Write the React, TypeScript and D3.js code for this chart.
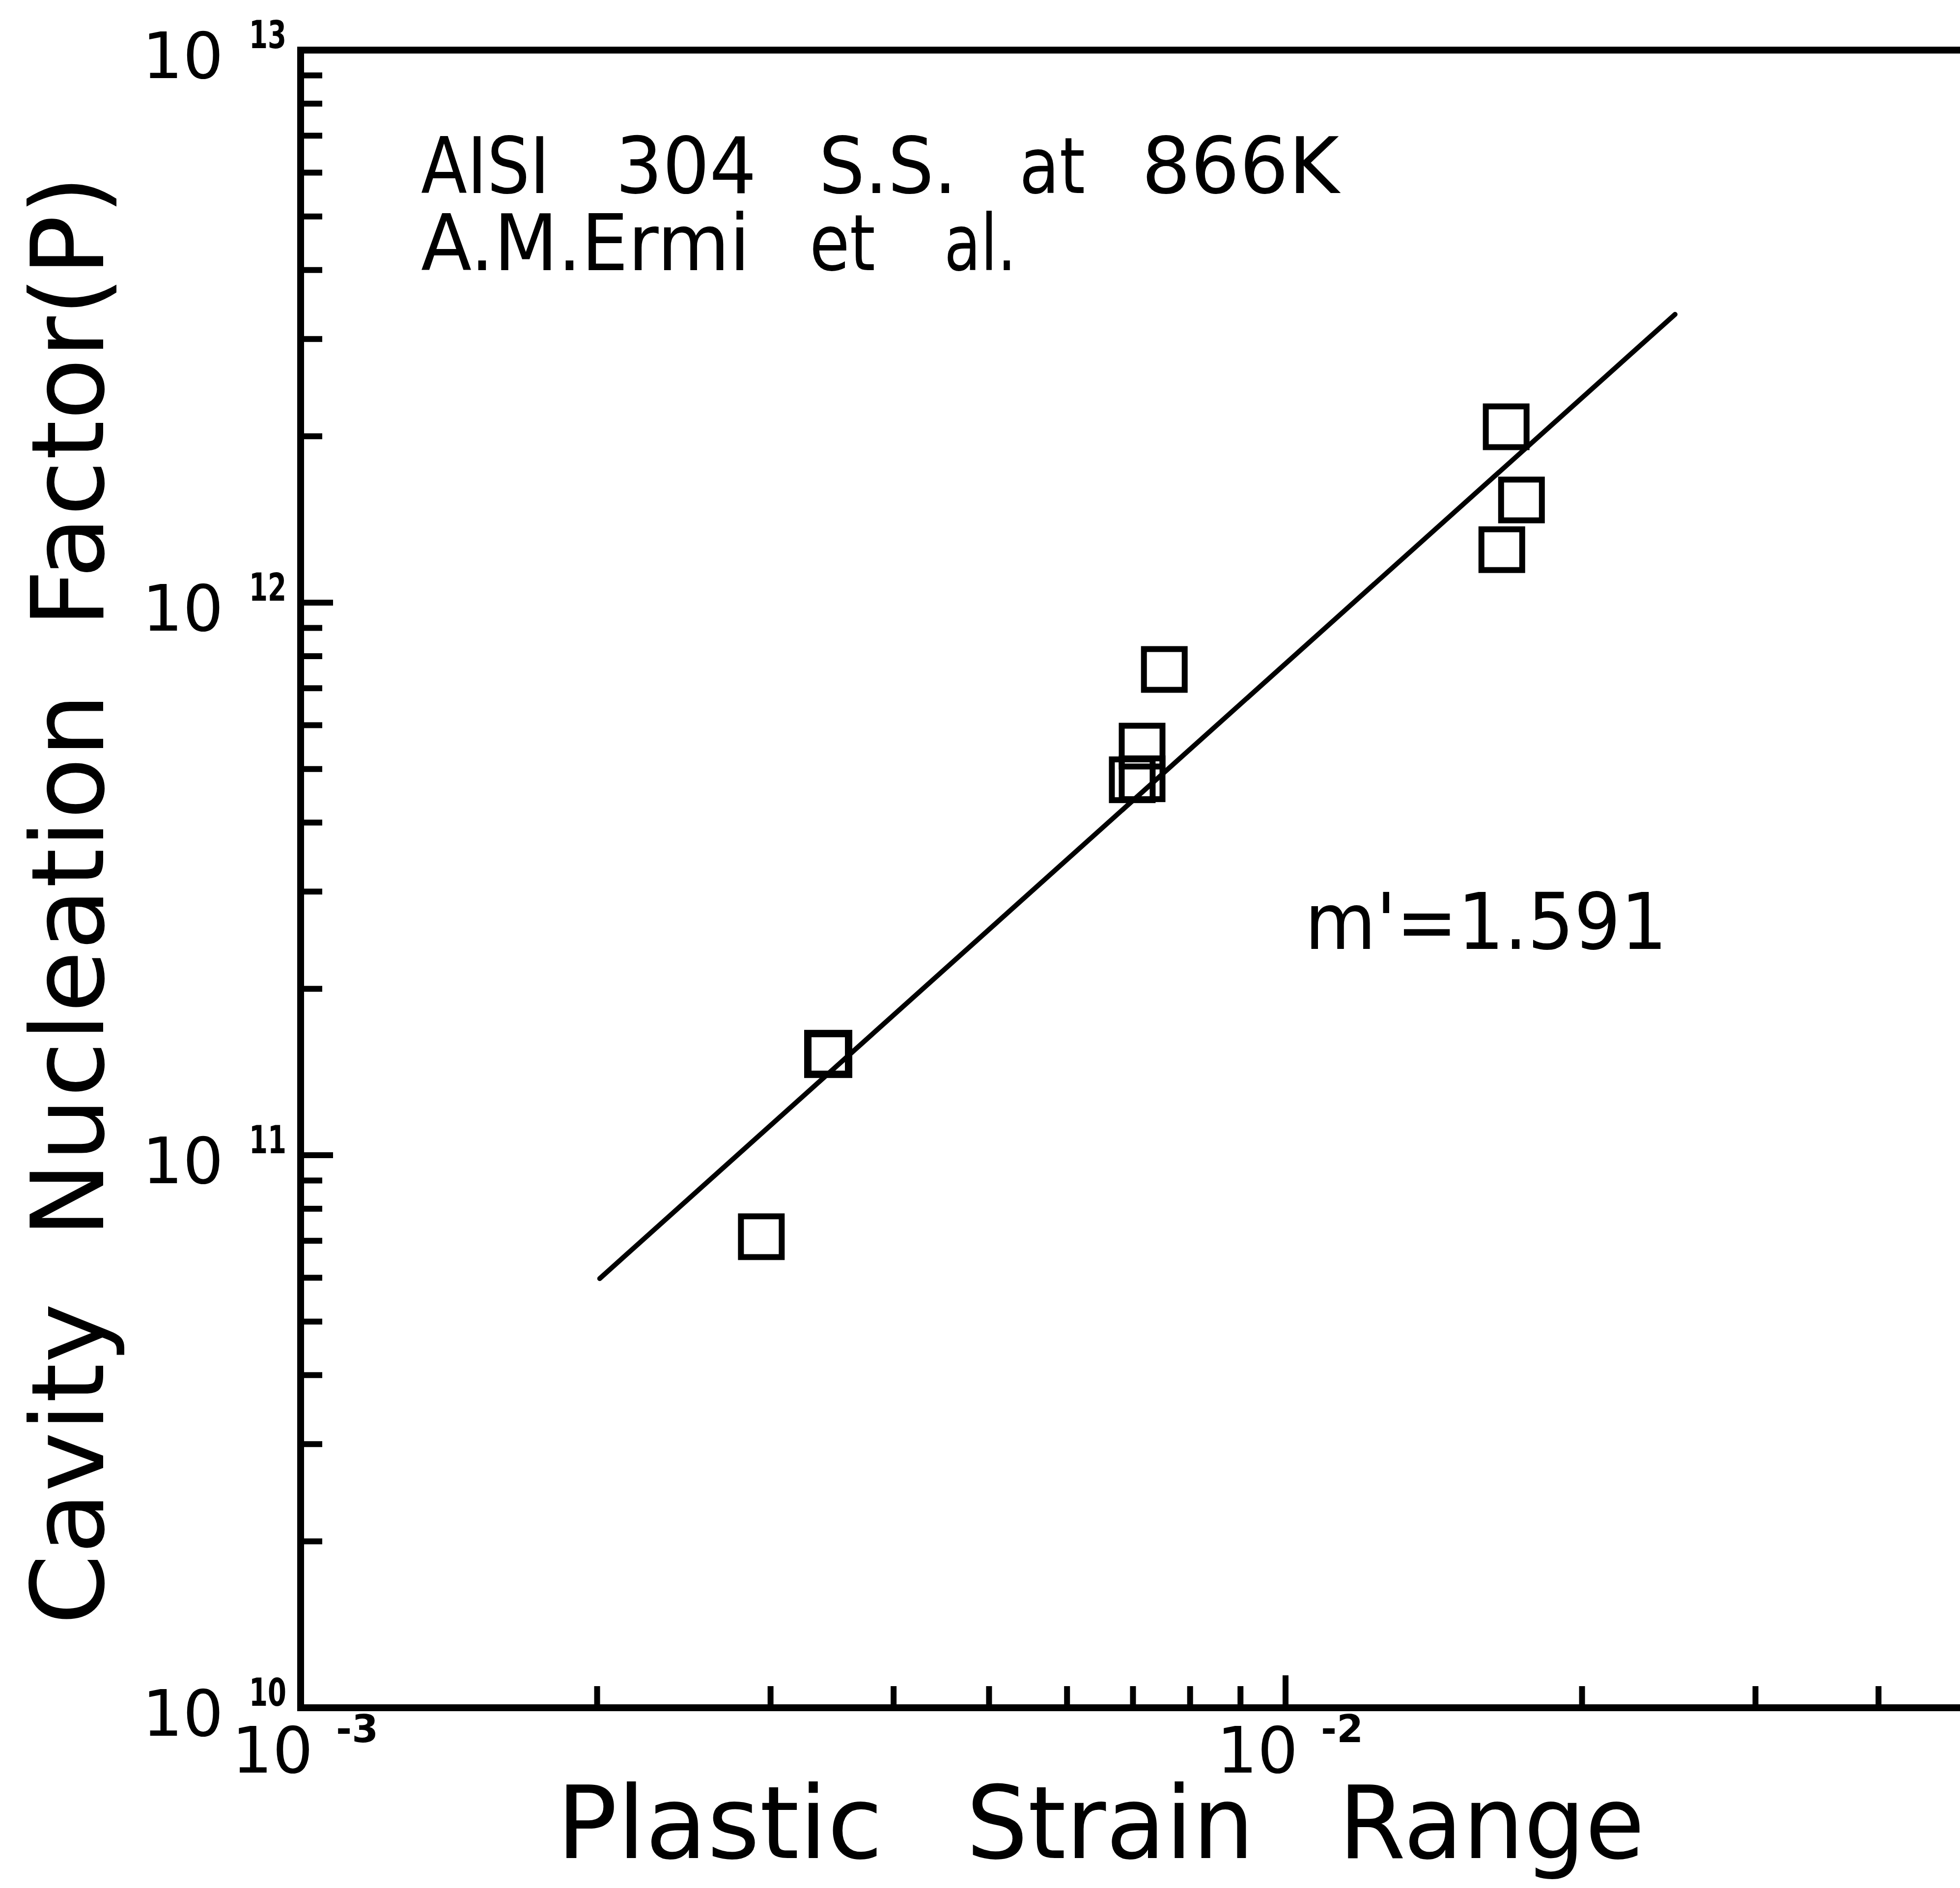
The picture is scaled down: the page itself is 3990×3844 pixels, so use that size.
import React from "react";
import * as d3 from "d3";

// Data (plastic strain range vs cavity nucleation factor)
const strainRange = [0.002936, 0.003433, 0.007151, 0.006988, 0.007151, 0.007532, 0.01675, 0.01736, 0.01658];
const nucleationFactor = [7.12e10, 1.525e11, 5.5e11, 4.78e11, 4.8e11, 7.57e11, 2.081e12, 1.534e12, 1.247e12];

// Fitted line endpoints (m' = 1.591)
const fitStrain = [0.002012, 0.02486];
const fitFactor = [5.98e10, 3.325e12];

// Axis decades / tick labels
const xDecadeExponents = [-3, -2];
const xTickExpLabels = ["-3", "-2"];
const yDecadeExponents = [10, 11, 12, 13];
const yTickExpLabels = ["10", "11", "12", "13"];
const minorMultipliers = [2, 3, 4, 5, 6, 7, 8, 9];

const titleLine1 = ["AISI", "304", "S.S.", "at", "866K"];
const titleLine2 = ["A.M.Ermi", "et", "al."];
const xTitleWords = ["Plastic", "Strain", "Range"];
const yTitle = "Cavity  Nucleation  Factor(P)";
const slopeLabel = "m'=1.591";

export default function App() {
  const W = 3990;
  const H = 3844;
  const left = 612;
  const top = 102;
  const bottom = 3477;
  const decadeX = 2005;
  const font = "'DejaVu Sans', 'Liberation Sans', sans-serif";

  const x = d3.scaleLog().domain([1e-3, 1e-1]).range([left, left + 2 * decadeX]);
  const y = d3.scaleLog().domain([1e10, 1e13]).range([bottom, top]);

  const xMinor = xDecadeExponents
    .flatMap((e) => minorMultipliers.map((m) => m * Math.pow(10, e)))
    .filter((v) => x(v) < W);
  const xMajor = xDecadeExponents.map((e) => Math.pow(10, e));
  const yMinor = yDecadeExponents
    .slice(0, -1)
    .flatMap((e) => minorMultipliers.map((m) => m * Math.pow(10, e)));
  const yMajor = yDecadeExponents.map((e) => Math.pow(10, e));

  const line = d3
    .line<[number, number]>()
    .x((d) => x(d[0]))
    .y((d) => y(d[1]));
  const fitPts: [number, number][] = fitStrain.map((s, i) => [s, fitFactor[i]]);

  const side = 83;

  // layout of words (x start, x end) in pixels
  const line1Pos = [
    [857, 1119],
    [1253, 1540],
    [1667, 1948],
    [2075, 2209],
    [2324, 2726],
  ];
  const line2Pos = [
    [857, 1527],
    [1648, 1782],
    [1922, 2069],
  ];
  const xTitlePos = [
    [1133, 1797],
    [1967, 2553],
    [2725, 3348],
  ];

  return (
    <svg
      width={W}
      height={H}
      viewBox={`0 0 ${W} ${H}`}
      style={{ position: "absolute", left: 0, top: 0, display: "block", background: "#fff" }}
    >
      <rect x={0} y={0} width={W} height={H} fill="#fff" />

      {/* frame */}
      <path
        d={`M${W},${top} H${left} V${bottom} H${W}`}
        fill="none"
        stroke="#000"
        strokeWidth={14}
        strokeLinejoin="miter"
      />

      {/* y ticks */}
      {yMinor.map((v, i) => (
        <line key={"ym" + i} x1={left} x2={left + 44} y1={y(v)} y2={y(v)} stroke="#000" strokeWidth={12} />
      ))}
      {yMajor.map((v, i) => (
        <line key={"yM" + i} x1={left} x2={left + 66} y1={y(v)} y2={y(v)} stroke="#000" strokeWidth={12} />
      ))}
      {/* x ticks */}
      {xMinor.map((v, i) => (
        <line key={"xm" + i} x1={x(v)} x2={x(v)} y1={bottom} y2={bottom - 44} stroke="#000" strokeWidth={12} />
      ))}
      {xMajor.map((v, i) => (
        <line key={"xM" + i} x1={x(v)} x2={x(v)} y1={bottom} y2={bottom - 66} stroke="#000" strokeWidth={12} />
      ))}

      {/* y tick labels */}
      {yMajor.map((v, i) => (
        <g key={"yl" + i} fontFamily={font} fill="#000">
          <text x={455} y={y(v) + 57} fontSize={130} textAnchor="end">
            10
          </text>
          <text
            x={507}
            y={y(v) - 4}
            fontSize={78}
            fontWeight="bold"
            textLength={76}
            lengthAdjust="spacingAndGlyphs"
          >
            {yTickExpLabels[i]}
          </text>
        </g>
      ))}

      {/* x tick labels */}
      {xMajor.map((v, i) => (
        <g key={"xl" + i} fontFamily={font} fill="#000">
          <text x={x(v) - 140} y={3609} fontSize={130}>
            10
          </text>
          <text x={x(v) + 72} y={3547} fontSize={78} fontWeight="bold" textLength={86} lengthAdjust="spacingAndGlyphs">
            {xTickExpLabels[i]}
          </text>
        </g>
      ))}

      {/* fitted line */}
      <path d={line(fitPts) || ""} fill="none" stroke="#000" strokeWidth={10} strokeLinecap="round" />

      {/* data markers */}
      {strainRange.map((s, i) => (
        <rect
          key={"p" + i}
          x={x(s) - side / 2}
          y={y(nucleationFactor[i]) - side / 2}
          width={side}
          height={side}
          fill="none"
          stroke="#000"
          strokeWidth={i === 1 ? 15 : 12}
        />
      ))}

      {/* annotation */}
      <g fontFamily={font} fontSize={158} fill="#000">
        {titleLine1.map((w, i) => (
          <text
            key={"t1" + i}
            x={line1Pos[i][0]}
            y={393}
            textLength={line1Pos[i][1] - line1Pos[i][0]}
            lengthAdjust="spacingAndGlyphs"
          >
            {w}
          </text>
        ))}
        {titleLine2.map((w, i) => (
          <text
            key={"t2" + i}
            x={line2Pos[i][0]}
            y={550}
            textLength={line2Pos[i][1] - line2Pos[i][0]}
            lengthAdjust="spacingAndGlyphs"
          >
            {w}
          </text>
        ))}
        <text x={2656} y={1932} textLength={738} lengthAdjust="spacingAndGlyphs">
          {slopeLabel}
        </text>
      </g>

      {/* x title */}
      <g fontFamily={font} fontSize={205} fill="#000">
        {xTitleWords.map((w, i) => (
          <text
            key={"xt" + i}
            x={xTitlePos[i][0]}
            y={3783}
            textLength={xTitlePos[i][1] - xTitlePos[i][0]}
            lengthAdjust="spacingAndGlyphs"
          >
            {w}
          </text>
        ))}
      </g>

      {/* y title */}
      <text
        transform="translate(210,3308) rotate(-90)"
        fontFamily={font}
        fontSize={205}
        fill="#000"
        xmlSpace="preserve"
        textLength={2951}
        lengthAdjust="spacing"
        style={{ whiteSpace: "pre" }}
      >
        {yTitle}
      </text>
    </svg>
  );
}
